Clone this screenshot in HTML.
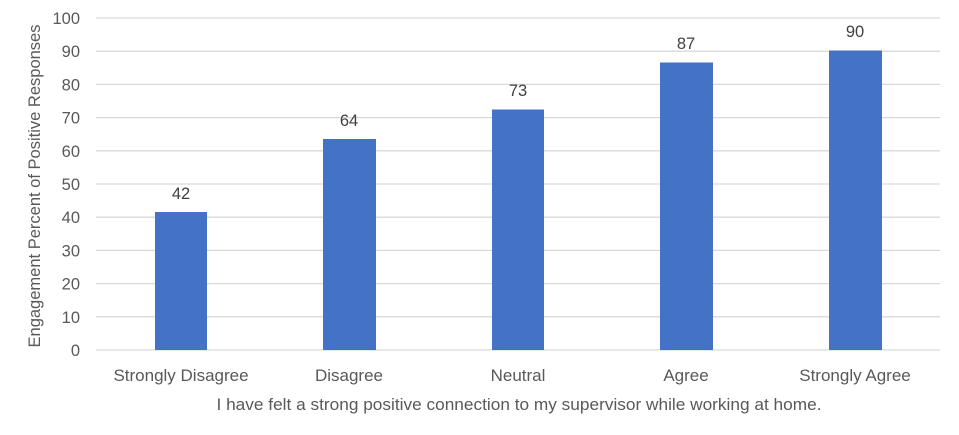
<!DOCTYPE html>
<html><head><meta charset="utf-8"><style>
html,body{margin:0;padding:0;background:#fff;}
svg{display:block;font-family:"Liberation Sans",sans-serif;}
</style></head><body>
<svg width="959" height="435" viewBox="0 0 959 435" xmlns="http://www.w3.org/2000/svg">
<rect width="959" height="435" fill="#fff"/>
<g stroke="#d9d9d9" stroke-width="1.3">
<line x1="96" x2="940" y1="18" y2="18"/>
<line x1="96" x2="940" y1="51.2" y2="51.2"/>
<line x1="96" x2="940" y1="84.4" y2="84.4"/>
<line x1="96" x2="940" y1="117.6" y2="117.6"/>
<line x1="96" x2="940" y1="150.8" y2="150.8"/>
<line x1="96" x2="940" y1="184" y2="184"/>
<line x1="96" x2="940" y1="217.2" y2="217.2"/>
<line x1="96" x2="940" y1="250.4" y2="250.4"/>
<line x1="96" x2="940" y1="283.6" y2="283.6"/>
<line x1="96" x2="940" y1="316.8" y2="316.8"/>
<line x1="96" x2="940" y1="350" y2="350"/>
</g>
<g fill="#595959" font-size="16.5" text-anchor="end">
<text x="80" y="24">100</text>
<text x="80" y="57.2">90</text>
<text x="80" y="90.4">80</text>
<text x="80" y="123.6">70</text>
<text x="80" y="156.8">60</text>
<text x="80" y="190">50</text>
<text x="80" y="223.2">40</text>
<text x="80" y="256.4">30</text>
<text x="80" y="289.6">20</text>
<text x="80" y="322.8">10</text>
<text x="80" y="356">0</text>
</g>
<g fill="#4472c4">
<rect x="155" y="212" width="52" height="138"/>
<rect x="323" y="139" width="53" height="211"/>
<rect x="492" y="109.5" width="52" height="240.5"/>
<rect x="660" y="62.5" width="53" height="287.5"/>
<rect x="829" y="50.5" width="53" height="299.5"/>
</g>
<g fill="#404040" font-size="16.5" text-anchor="middle">
<text x="181" y="199">42</text>
<text x="349" y="126">64</text>
<text x="518" y="96">73</text>
<text x="686" y="49">87</text>
<text x="855" y="37">90</text>
</g>
<g fill="#595959" text-anchor="middle">
<text x="181" y="381" font-size="17">Strongly Disagree</text>
<text x="349" y="381" font-size="17">Disagree</text>
<text x="518" y="381" font-size="17">Neutral</text>
<text x="686" y="381" font-size="17">Agree</text>
<text x="855" y="381" font-size="17">Strongly Agree</text>
<text x="519" y="410" font-size="17" textLength="605" lengthAdjust="spacingAndGlyphs">I have felt a strong positive connection to my supervisor while working at home.</text>
<text transform="translate(40,186) rotate(-90)" font-size="16.5" textLength="323" lengthAdjust="spacingAndGlyphs">Engagement Percent of Positive Responses</text>
</g>
</svg>
</body></html>
